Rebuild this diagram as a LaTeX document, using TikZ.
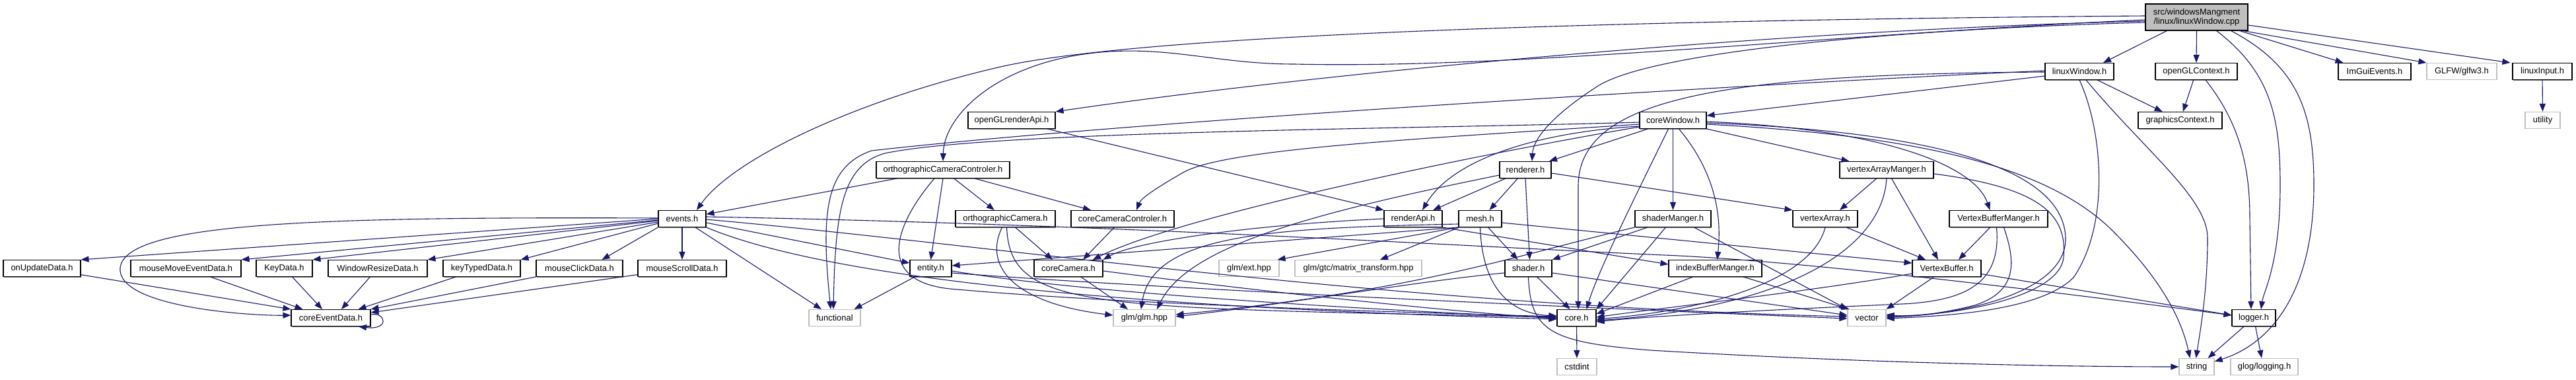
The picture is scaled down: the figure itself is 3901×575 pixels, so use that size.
\documentclass[tikz,border=0pt]{standalone}
\usepackage{fontspec}
\setmainfont{Liberation Sans}
\usetikzlibrary{arrows.meta,shadows}
\definecolor{edgeblue}{HTML}{191970}
\definecolor{nodegrey}{HTML}{BFBFBF}
\newcommand{\lbl}{\fontsize{12.9}{14.3}\selectfont}
\begin{document}
\begin{tikzpicture}[x=1pt,y=-1pt,
  base/.style={rectangle, inner sep=0pt, minimum height=25pt, font=\lbl, line width=1.1pt},
  nd/.style={base, draw=black, fill=white, drop shadow={shadow xshift=1.3pt, shadow yshift=-1.3pt, fill=black!55, opacity=1}},
  sysnd/.style={base, draw=nodegrey, fill=white},
  srcnd/.style={base, draw=black, fill=nodegrey, align=center, drop shadow={shadow xshift=1.3pt, shadow yshift=-1.3pt, fill=black!55, opacity=1}},
  dep/.style={draw=edgeblue, line width=1.1pt, -{Triangle[length=12pt,width=9pt]}},
]
\path[use as bounding box, fill=white] (0,0) rectangle (3901,575);

% ---------- nodes ----------
\node[srcnd, minimum width=155pt, minimum height=40pt] (C) at (3326.5,26) {src/windowsMangment\\/linux/linuxWindow.cpp};
\node[nd, minimum width=104pt] (LW) at (3149,108) {linuxWindow.h};
\node[nd, minimum width=124pt] (OC) at (3326,108) {openGLContext.h};
\node[nd, minimum width=110pt] (IG) at (3596,108) {ImGuiEvents.h};
\node[sysnd, minimum width=106pt] (GL) at (3728,108) {GLFW/glfw3.h};
\node[nd, minimum width=90pt] (LI) at (3850,108) {linuxInput.h};
\node[nd, minimum width=132pt] (GRA) at (1532,182) {openGLrenderApi.h};
\node[nd, minimum width=101pt] (CW) at (2533.5,182) {coreWindow.h};
\node[nd, minimum width=127pt] (GC) at (3301.5,182) {graphicsContext.h};
\node[sysnd, minimum width=53pt] (UT) at (3850.5,182) {utility};
\node[nd, minimum width=202pt] (OCC) at (1428,257) {orthographicCameraControler.h};
\node[nd, minimum width=78pt] (R) at (2310,257) {renderer.h};
\node[nd, minimum width=142pt] (VAM) at (2857,257) {vertexArrayManger.h};
\node[nd, minimum width=72pt] (E) at (1033,331) {events.h};
\node[nd, minimum width=151pt] (OCam) at (1522.5,331) {orthographicCamera.h};
\node[nd, minimum width=156pt] (CCC) at (1700,331) {coreCameraControler.h};
\node[nd, minimum width=88pt] (RA) at (2140,331) {renderApi.h};
\node[nd, minimum width=65pt] (M) at (2241.5,331) {mesh.h};
\node[nd, minimum width=115pt] (SM) at (2533.5,331) {shaderManger.h};
\node[nd, minimum width=98pt] (VA) at (2764,331) {vertexArray.h};
\node[nd, minimum width=149pt] (VBM) at (3026.5,331) {VertexBufferManger.h};
\node[nd, minimum width=117pt] (OU) at (63.5,406) {onUpdateData.h};
\node[nd, minimum width=167pt] (MM) at (281.5,406) {mouseMoveEventData.h};
\node[nd, minimum width=85pt] (KD) at (430.5,406) {KeyData.h};
\node[nd, minimum width=150pt] (WR) at (572,406) {WindowResizeData.h};
\node[nd, minimum width=117pt] (KT) at (729.5,406) {keyTypedData.h};
\node[nd, minimum width=131pt] (MC) at (877.5,406) {mouseClickData.h};
\node[nd, minimum width=134pt] (MS) at (1033,406) {mouseScrollData.h};
\node[nd, minimum width=63pt] (EN) at (1409.5,406) {entity.h};
\node[nd, minimum width=104pt] (CC) at (1618,406) {coreCamera.h};
\node[sysnd, minimum width=91pt] (GE) at (1891.5,406) {glm/ext.hpp};
\node[sysnd, minimum width=192pt] (GT) at (2057,406) {glm/gtc/matrix\_transform.hpp};
\node[nd, minimum width=71pt] (SH) at (2314.5,406) {shader.h};
\node[nd, minimum width=141pt] (IBM) at (2597.5,406) {indexBufferManger.h};
\node[nd, minimum width=104pt] (VB) at (2948,406) {VertexBuffer.h};
\node[nd, minimum width=120pt] (CED) at (501,481) {coreEventData.h};
\node[sysnd, minimum width=78pt] (F) at (1264,481) {functional};
\node[sysnd, minimum width=94pt] (G) at (1733,481) {glm/glm.hpp};
\node[nd, minimum width=59pt] (K) at (2387.5,481) {core.h};
\node[sysnd, minimum width=58pt] (V) at (2827,481) {vector};
\node[nd, minimum width=66pt] (L) at (3413,481) {logger.h};
\node[sysnd, minimum width=60pt] (CS) at (2388,555) {cstdint};
\node[sysnd, minimum width=53pt] (S) at (3326.5,555) {string};
\node[sysnd, minimum width=102pt] (GG) at (3429,555) {glog/logging.h};

% ---------- source file ----------
\draw[dep] ([xshift=-45]C.south) -- ([xshift=36]LW.north);
\draw[dep] (C.south) -- (OC.north);
\draw[dep] ([xshift=65]C.south) -- ([xshift=8]IG.north west);
\draw[dep] ([xshift=70]C.south) -- (GL.north west);
\draw[dep] ([yshift=-12]C.east) -- ([xshift=-3]LI.north west);
\draw[dep] ([xshift=30]C.south) .. controls (3440,110) and (3453,180) .. (3453,280) .. controls (3453,400) and (3428,440) .. ([xshift=11]L.north);
\draw[dep] ([xshift=52]C.south) .. controls (3480,100) and (3504,170) .. (3504,280) .. controls (3504,440) and (3440,520) .. ([yshift=8]S.east);
\draw[dep] ([yshift=2]C.west) .. controls (2500,30) and (1750,50) .. (1520,100) .. controls (1300,150) and (1110,240) .. ([xshift=22]E.north);
\draw[dep] ([yshift=-4]C.west) .. controls (2800,50) and (2300,105) .. (1960,97) .. controls (1850,97) and (1780,72) .. (1680,78) .. controls (1520,88) and (1430,170) .. (OCC.north);
\draw[dep] ([yshift=-6]C.west) .. controls (2700,45) and (2000,110) .. (GRA.north east);
\draw[dep] ([yshift=-8]C.west) .. controls (2850,45) and (2500,80) .. (2420,130) .. controls (2350,175) and (2322,210) .. ([xshift=10]R.north);

% ---------- linuxWindow.h ----------
\draw[dep] ([yshift=-7]LW.west) -- ([yshift=7]CW.east);
\draw[dep] (LW) -- (GC);
\draw[dep] ([yshift=-1]LW.west) .. controls (2600,112) and (2392,150) .. (2390,280) -- ([xshift=2.5]K.north);
\draw[dep] ([yshift=1]LW.west) .. controls (2600,130) and (1700,185) .. (1320,228) .. controls (1250,252) and (1243,320) .. ([xshift=-6]F.north);
\draw[dep] (LW.south) .. controls (3185,200) and (3195,340) .. (3140,420) .. controls (3090,470) and (2950,478) .. ([yshift=-1]V.east);
\draw[dep] ([xshift=10]LW.south) .. controls (3250,230) and (3343,300) .. (3343,360) .. controls (3343,440) and (3332,500) .. ([xshift=-1]S.north);

% ---------- openGLContext.h / linuxInput.h ----------
\draw[dep] (OC) -- (GC);
\draw[dep] ([xshift=14]OC.south) .. controls (3395,190) and (3407,260) .. (3407,330) -- ([xshift=-4]L.north);
\draw[dep] (LI) -- (UT);

% ---------- coreWindow.h ----------
\draw[dep] ([yshift=-3]CW.west) .. controls (2150,195) and (1500,198) .. (1340,232) .. controls (1275,250) and (1265,320) .. ([xshift=-2]F.north);
\draw[dep] ([yshift=-6]CW.west) .. controls (2150,210) and (1850,225) .. (1790,262) .. controls (1750,285) and (1728,300) .. ([xshift=21]CCC.north);
\draw[dep] ([xshift=-38]CW.south) -- ([xshift=36]R.north);
\draw[dep] ([yshift=-9]CW.west) .. controls (2330,200) and (2200,240) .. ([xshift=14]RA.north);
\draw[dep] (CW.south) -- (SM.north);
\draw[dep] ([xshift=-7]CW.south) .. controls (2480,290) and (2420,410) .. ([xshift=15]K.north);
\draw[dep] ([xshift=9]CW.south) .. controls (2605,270) and (2606,340) .. ([xshift=3]IBM.north);
\draw[dep] (CW.south east) -- ([xshift=15]VAM.north west);
\draw[dep] ([yshift=-2]CW.east) .. controls (2850,195) and (2990,250) .. ([xshift=-13]VBM.north);
\draw[dep] ([yshift=-4]CW.east) .. controls (2950,200) and (3125,260) .. (3128,360) .. controls (3130,440) and (2980,476) .. ([yshift=1]V.east);
\draw[dep] ([yshift=-6]CW.east) .. controls (2900,205) and (3100,250) .. (3200,350) .. controls (3280,430) and (3305,490) .. ([xshift=-10]S.north);
\draw[dep] ([yshift=-10]CW.west) .. controls (2200,240) and (1780,330) .. ([xshift=37]CC.north);

% ---------- renderer.h ----------
\draw[dep] (R) -- ([xshift=30]RA.north);
\draw[dep] (R) -- ([xshift=14]M.north);
\draw[dep] (R.south) -- ([xshift=2]SH.north);
\draw[dep] ([yshift=-5]R.east) -- (VA.north west);
\draw[dep] ([yshift=-8]R.west) .. controls (2000,320) and (1800,370) .. ([xshift=19]G.north);

% ---------- renderApi.h / openGLrenderApi.h ----------
\draw[dep] (RA.south east) -- ([yshift=6]IBM.west);
\draw[dep] (RA.west) .. controls (1900,340) and (1720,365) .. (CC.north east);
\draw[dep] (GRA) -- (RA.north west);

% ---------- mesh.h ----------
\draw[dep] (M.south west) -- ([yshift=4]EN.east);
\draw[dep] ([yshift=-8]M.west) .. controls (1920,345) and (1745,355) .. ([xshift=-5]G.north);
\draw[dep] (M.south west) -- ([xshift=-3]GE.north east);
\draw[dep] (M) -- ([xshift=33]GT.north);
\draw[dep] (M) -- ([xshift=-16]SH.north);
\draw[dep] (M.south) .. controls (2245,440) and (2290,475) .. ([yshift=3]K.west);
\draw[dep] ([yshift=-6]M.east) -- ([yshift=8]VB.west);

% ---------- shaderManger.h / shader.h ----------
\draw[dep] (SM) -- (SH.north east);
\draw[dep] (SM.south west) .. controls (2300,385) and (2150,440) .. ([yshift=5]G.east);
\draw[dep] (SM) -- (K.north east);
\draw[dep] ([xshift=32]SM.south) -- (V.north west);
\draw[dep] (SH) -- ([xshift=-10]K.north);
\draw[dep] ([yshift=-7]SH.east) -- ([yshift=4]V.west);
\draw[dep] (SH.south) .. controls (2318,500) and (2345,518) .. (2500,530) .. controls (2800,548) and (3100,555) .. (S.west);
\draw[dep] ([yshift=-7]SH.west) .. controls (2150,425) and (1950,460) .. ([yshift=2]G.east);

% ---------- buffers / arrays ----------
\draw[dep] (IBM) -- ([yshift=6]K.east);
\draw[dep] (IBM) -- ([xshift=3]V.north west);
\draw[dep] (VA) -- ([xshift=-32]VB.north);
\draw[dep] (VA.south) .. controls (2745,420) and (2600,468) .. ([yshift=-2]K.east);
\draw[dep] (VAM) -- ([xshift=22]VA.north);
\draw[dep] (VAM) -- ([xshift=-13]VB.north);
\draw[dep] (VAM.south) .. controls (2850,380) and (2700,465) .. ([yshift=-4]K.east);
\draw[dep] ([yshift=-6]VAM.east) .. controls (3100,285) and (3130,330) .. (3125,390) .. controls (3118,450) and (2960,478) .. ([yshift=3]V.east);
\draw[dep] (VBM) -- ([xshift=18]VB.north);
\draw[dep] ([xshift=-3]VBM.south) .. controls (3030,420) and (2990,455) .. (2880,460) .. controls (2700,468) and (2500,478) .. ([yshift=-6]K.east);
\draw[dep] ([xshift=8]VBM.south) .. controls (3050,390) and (3060,440) .. (2990,462) .. controls (2940,475) and (2890,480) .. ([yshift=5]V.east);
\draw[dep] (VB) -- ([yshift=4]L.west);
\draw[dep] (VB) -- (V.north east);
\draw[dep] ([yshift=-8]VB.west) .. controls (2750,440) and (2500,468) .. ([yshift=1]K.east);

% ---------- logger.h / core.h ----------
\draw[dep] (L) -- ([xshift=17]S.north);
\draw[dep] (L) -- ([xshift=-4]GG.north);
\draw[dep] (K) -- (CS);

% ---------- events.h ----------
\draw[dep] (E.west) -- (OU.north east);
\draw[dep] ([yshift=-2]E.west) -- (MM.north east);
\draw[dep] ([yshift=-3]E.west) -- (KD.north east);
\draw[dep] ([yshift=-5]E.west) -- (WR.north east);
\draw[dep] ([yshift=-7]E.west) -- (KT.north east);
\draw[dep] (E.south west) -- ([xshift=34]MC.north);
\draw[dep] (E.south) -- (MS.north);
\draw[dep] ([yshift=1]E.west) .. controls (500,328) and (190,335) .. (182,405) .. controls (176,465) and (380,478) .. ([yshift=4]CED.west);
\draw[dep] (E) -- ([xshift=-20]F.north);
\draw[dep] ([yshift=-6]E.east) -- ([yshift=8]EN.west);
\draw[dep] ([yshift=3]E.east) .. controls (1700,340) and (2200,372) .. (2520,386) .. controls (2720,394) and (3100,440) .. ([yshift=4]L.west);
\draw[dep] ([yshift=-1]E.east) .. controls (1500,370) and (2100,462) .. ([yshift=2]V.west);
\draw[dep] (E.south east) .. controls (1300,440) and (1900,470) .. ([yshift=-2]K.west);

% ---------- entity / cameras ----------
\draw[dep] (EN) -- ([xshift=-10]F.north east);
\draw[dep] ([yshift=-4]EN.east) .. controls (1650,445) and (2100,470) .. (K.west);
\draw[dep] ([yshift=-7]EN.east) .. controls (1800,440) and (2500,470) .. ([yshift=-1]V.west);
\draw[dep] (CC) -- ([xshift=-25]G.north);
\draw[dep] ([yshift=-4]CC.east) .. controls (1900,440) and (2200,472) .. ([yshift=-1]K.west);
\draw[dep] (OCam) -- ([xshift=-24]CC.north);
\draw[dep] ([xshift=-5]OCam.south) .. controls (1490,400) and (1530,458) .. ([yshift=4]G.west);
\draw[dep] ([xshift=2]OCam.south) .. controls (1530,470) and (1650,465) .. ([yshift=1]K.west);
\draw[dep] (OCC) -- (E);
\draw[dep] (OCC) -- (OCam);
\draw[dep] (OCC) -- (CCC);
\draw[dep] (OCC.south) -- (EN.north);
\draw[dep] ([xshift=-13]OCC.south) .. controls (1355,340) and (1320,430) .. (1450,438) .. controls (1700,460) and (2100,472) .. ([yshift=2]K.west);
\draw[dep] (CCC) -- ([xshift=22]CC.north);

% ---------- event data ----------
\draw[dep] (OU) -- (CED.north west);
\draw[dep] (MM) -- ([xshift=18]CED.north west);
\draw[dep] (KD) -- ([xshift=-13]CED.north);
\draw[dep] (WR) -- ([xshift=16]CED.north);
\draw[dep] (KT) -- ([xshift=-19]CED.north east);
\draw[dep] (MC) -- (CED.north east);
\draw[dep] (MS) -- ([yshift=8]CED.east);
\draw[dep] ([yshift=5]CED.east) .. controls (585,472) and (590,500) .. ([xshift=42]CED.south);
\end{tikzpicture}
\end{document}
